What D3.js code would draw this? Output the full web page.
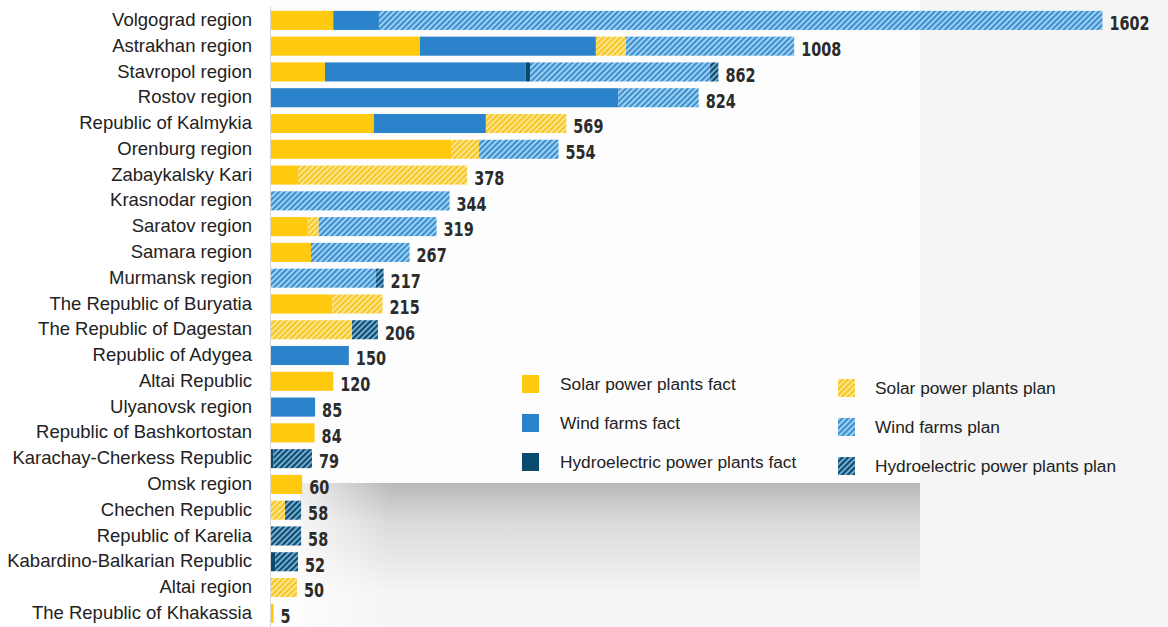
<!DOCTYPE html>
<html>
<head>
<meta charset="utf-8">
<script src="https://cdn.jsdelivr.net/npm/d3@7/dist/d3.min.js"></script>
<style>
  html, body { margin: 0; padding: 0; background: #f5f5f6; }
  svg { display: block; }
</style>
</head>
<body>
<svg id="chart" width="1168" height="627"></svg>
<script>
// Regions, top to bottom
const regions = [
  "Volgograd region", "Astrakhan region", "Stavropol region", "Rostov region",
  "Republic of Kalmykia", "Orenburg region", "Zabaykalsky Kari", "Krasnodar region",
  "Saratov region", "Samara region", "Murmansk region", "The Republic of Buryatia",
  "The Republic of Dagestan", "Republic of Adygea", "Altai Republic", "Ulyanovsk region",
  "Republic of Bashkortostan", "Karachay-Cherkess Republic", "Omsk region", "Chechen Republic",
  "Republic of Karelia", "Kabardino-Balkarian Republic", "Altai region", "The Republic of Khakassia"
];

// Capacity, MW, per plant type (same order as regions)
const solarFact = [120, 287, 104,   0, 198, 347,  52,   0,  71,  77,   0, 118,   0,   0, 120,  0, 84, 0, 60,  0,  0, 0,  0, 5];
const windFact  = [ 88, 339, 387, 669, 216,   0,   0,   0,   0,   0,   0,   0,   0, 150,   0, 85,  0, 0,  0,  0,  0, 0,  0, 0];
const hydroFact = [  0,   0,   8,   0,   0,   0,   0,   0,   0,   0,   0,   0,   0,   0,   0,  0,  0, 5,  0,  0,  0, 8,  0, 0];
const solarPlan = [  0,  58,   0,   0, 155,  54, 326,   0,  21,   0,   0,  97, 156,   0,   0,  0,  0, 0,  0, 27,  0, 0, 50, 0];
const windPlan  = [1394, 324, 347, 155,  0, 153,   0, 344, 227, 190, 202,   0,   0,   0,   0,  0,  0, 0,  0,  0,  0, 0,  0, 0];
const hydroPlan = [  0,   0,  16,   0,   0,   0,   0,   0,   0,   0,  15,   0,  50,   0,   0,  0,  0, 74, 0, 31, 58, 44, 0, 0];

const seriesNames = [
  "Solar power plants fact", "Wind farms fact", "Hydroelectric power plants fact",
  "Solar power plants plan", "Wind farms plan", "Hydroelectric power plants plan"
];
const seriesValues = [solarFact, windFact, hydroFact, solarPlan, windPlan, hydroPlan];

const svg = d3.select("#chart");
const W = 1168, H = 627;

// ---- backdrop: white sheet with a soft shadow beneath it ----
const defs = svg.append("defs");
const shade = defs.append("linearGradient").attr("id", "shadeV")
  .attr("x1", 0).attr("y1", 0).attr("x2", 0).attr("y2", 1);
shade.append("stop").attr("offset", "0%").attr("stop-color", "#b9b9bb");
shade.append("stop").attr("offset", "35%").attr("stop-color", "#dadadc");
shade.append("stop").attr("offset", "100%").attr("stop-color", "#f5f5f6");
const fadeH = defs.append("linearGradient").attr("id", "fadeH")
  .attr("x1", 0).attr("y1", 0).attr("x2", 1).attr("y2", 0);
fadeH.append("stop").attr("offset", "0%").attr("stop-color", "#fff").attr("stop-opacity", 1);
fadeH.append("stop").attr("offset", "100%").attr("stop-color", "#fff").attr("stop-opacity", 0);

svg.append("rect").attr("x", 0).attr("y", 0).attr("width", W).attr("height", H).attr("fill", "#f5f5f6");
svg.append("rect").attr("x", 300).attr("y", 483).attr("width", 620).attr("height", 110).attr("fill", "url(#shadeV)");
svg.append("rect").attr("x", 270).attr("y", 483).attr("width", 120).attr("height", 144).attr("fill", "url(#fadeH)");
svg.append("rect").attr("x", 0).attr("y", 0).attr("width", 920).attr("height", 483).attr("fill", "#fdfdfd");
svg.append("rect").attr("x", 0).attr("y", 0).attr("width", 270).attr("height", H).attr("fill", "#ffffff");

// ---- hatch patterns for planned capacity ----
function hatch(id, bg, fg) {
  const p = defs.append("pattern").attr("id", id)
    .attr("patternUnits", "userSpaceOnUse")
    .attr("width", 4).attr("height", 4)
    .attr("patternTransform", "rotate(45)");
  p.append("rect").attr("width", 4).attr("height", 4).attr("fill", bg);
  p.append("rect").attr("width", 2.2).attr("height", 4).attr("fill", fg);
}
hatch("hSolar", "#fde89a", "#f6c623");
hatch("hWind", "#a9d6f2", "#3a8fd0");
hatch("hHydro", "#7fb6d8", "#0d4a70");

const fills = ["#ffc90e", "#2a83cb", "#0b4a6f", "url(#hSolar)", "url(#hWind)", "url(#hHydro)"];

// ---- scales ----
const x = d3.scaleLinear().domain([0, 1602]).range([271, 271 + 1602 * 0.519]);
const y = d3.scaleBand().domain(regions).range([7.5, 626.2]).paddingInner(0.26).paddingOuter(0.13);

// ---- stacked data ----
const rows = regions.map((r, i) => {
  const o = { region: r };
  seriesNames.forEach((s, k) => { o[s] = seriesValues[k][i]; });
  return o;
});
const stacked = d3.stack().keys(seriesNames)(rows);

// axis line
svg.append("line").attr("x1", 270.5).attr("x2", 270.5).attr("y1", 6).attr("y2", H)
  .attr("stroke", "#d6d6d6").attr("stroke-width", 1);

const layers = svg.append("g").selectAll("g").data(stacked).join("g")
  .attr("fill", (d, i) => fills[i]);
layers.selectAll("rect").data(d => d.filter(s => s[1] - s[0] > 0)).join("rect")
  .attr("x", d => x(d[0]))
  .attr("y", d => y(d.data.region))
  .attr("width", d => x(d[1]) - x(d[0]))
  .attr("height", y.bandwidth());

// ---- category labels ----
const yAxis = d3.axisLeft(y).tickSize(0).tickPadding(0);
const ga = svg.append("g").attr("transform", "translate(252,0)").call(yAxis);
ga.select(".domain").remove();
ga.selectAll("text")
  .attr("font-family", "'Liberation Sans', Arial, sans-serif")
  .attr("font-size", 18.5)
  .attr("fill", "#222")
  .attr("dy", "0.3em");

// ---- totals (bold, horizontally condensed) ----
const totals = rows.map(r => d3.sum(seriesNames, s => r[s]));
svg.append("g").selectAll("text").data(regions).join("text")
  .attr("transform", (d, i) => `translate(${x(totals[i]) + 7},${y(d) + y.bandwidth() / 2 + 3}) scale(0.76,1)`)
  .attr("dy", "0.36em")
  .attr("font-family", "'DejaVu Sans', sans-serif")
  .attr("font-weight", "bold")
  .attr("font-size", 19)
  .attr("fill", "#2b2b2b")
  .text((d, i) => totals[i]);

// ---- legend ----
const legendPos = [
  [522, 384], [522, 423], [522, 462],
  [838, 388], [838, 427], [838, 466]
];
const lg = svg.append("g").selectAll("g").data(seriesNames).join("g")
  .attr("transform", (d, i) => `translate(${legendPos[i][0]},${legendPos[i][1]})`);
lg.append("rect").attr("x", 0).attr("y", -9).attr("width", 17).attr("height", 18)
  .attr("fill", (d, i) => fills[i]);
lg.append("text").attr("x", (d, i) => i < 3 ? 38 : 37).attr("y", 0).attr("dy", "0.35em")
  .attr("font-family", "'Liberation Sans', Arial, sans-serif")
  .attr("font-size", 17.3)
  .attr("fill", "#222")
  .text(d => d);
</script>
</body>
</html>
